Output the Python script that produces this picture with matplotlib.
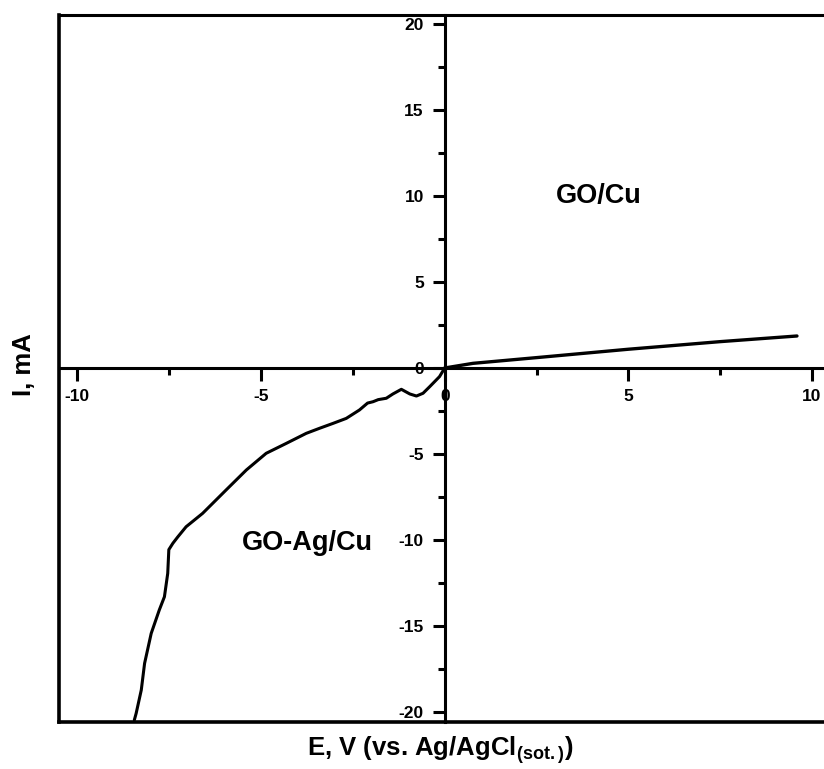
import numpy as np
import matplotlib
matplotlib.use('Agg')
import matplotlib.pyplot as plt
from matplotlib.ticker import MultipleLocator

plt.rcParams['font.family'] = ['Liberation Sans', 'DejaVu Sans']
plt.rcParams['font.weight'] = 'bold'
plt.rcParams['axes.unicode_minus'] = False
plt.rcParams['mathtext.fontset'] = 'custom'
plt.rcParams['mathtext.rm'] = 'Liberation Sans:bold'
plt.rcParams['mathtext.it'] = 'Liberation Sans:bold'
plt.rcParams['mathtext.bf'] = 'Liberation Sans:bold'

# GO-Ag/Cu branch (negative potentials)
ag_E = [0, -0.14, -0.41, -0.59, -0.77, -0.95, -1.18, -1.41, -1.59, -1.81, -1.95,
        -2.1, -2.32, -2.68, -3.04, -3.4, -3.77, -4.31, -4.86, -5.4, -5.95, -6.59,
        -7.04, -7.27, -7.4, -7.51, -7.54, -7.63, -7.77, -7.99, -8.17, -8.26, -8.4, -8.45]
ag_I = [0, -0.5, -1.09, -1.47, -1.63, -1.51, -1.24, -1.51, -1.76, -1.84, -1.96,
        -2.04, -2.44, -2.93, -3.22, -3.5, -3.8, -4.38, -4.96, -5.93, -7.09, -8.45,
        -9.23, -9.83, -10.19, -10.56, -11.94, -13.3, -14.07, -15.43, -17.17, -18.72, -20.08, -20.47]

# GO/Cu branch (positive potentials)
cu_E = [0, 0.77, 2.59, 5.0, 7.49, 9.59]
cu_I = [0, 0.27, 0.62, 1.09, 1.53, 1.86]

x_ticks = [-10, -5, 0, 5, 10]
y_ticks = [-20, -15, -10, -5, 0, 5, 10, 15, 20]

fig = plt.figure(figsize=(8.24, 7.69), dpi=100)
ax = fig.add_axes([59/824, 1-722/769, 771.4/824, 707/769])

ax.plot(ag_E, ag_I, color='black', lw=2.2, solid_capstyle='round')
ax.plot(cu_E, cu_I, color='black', lw=2.4, solid_capstyle='round')

ax.set_xlim(-10.5, 10.5)
ax.set_ylim(-20.58, 20.52)

# central axes through the origin
ax.spines['left'].set_position(('data', 0))
ax.spines['bottom'].set_position(('data', 0))
for s in ax.spines.values():
    s.set_linewidth(2.2)

# outer frame lines (left and bottom)
ax.plot([0, 0], [0, 1], transform=ax.transAxes, color='black', lw=2.6, clip_on=False)
ax.plot([0, 1], [0, 0], transform=ax.transAxes, color='black', lw=2.6, clip_on=False)

ax.set_xticks(x_ticks)
ax.set_yticks(y_ticks)
ax.xaxis.set_minor_locator(MultipleLocator(2.5))
ax.yaxis.set_minor_locator(MultipleLocator(2.5))
ax.tick_params(which='major', direction='out', length=9, width=2.2, labelsize=12.5, pad=6)
ax.tick_params(which='minor', direction='out', length=5, width=2.2)
ax.tick_params(top=False, right=False, which='both')
for lab in ax.get_xticklabels() + ax.get_yticklabels():
    lab.set_fontweight('bold')

ax.text(4.2, 10.0, 'GO/Cu', fontsize=19.5, fontweight='bold', ha='center', va='center')
ax.text(-3.73, -10.2, 'GO-Ag/Cu', fontsize=19.5, fontweight='bold', ha='center', va='center')

fig.text(440/824, 1-750/769, r'E, V (vs. Ag/AgCl$_{\mathrm{(sot.)}}$)', fontsize=18.5,
         fontweight='bold', ha='center', va='center')
fig.text(24/824, 1-365/769, 'I, mA', fontsize=18.5, fontweight='bold', rotation=90,
         ha='center', va='center')

fig.savefig('out.png', dpi=100)
